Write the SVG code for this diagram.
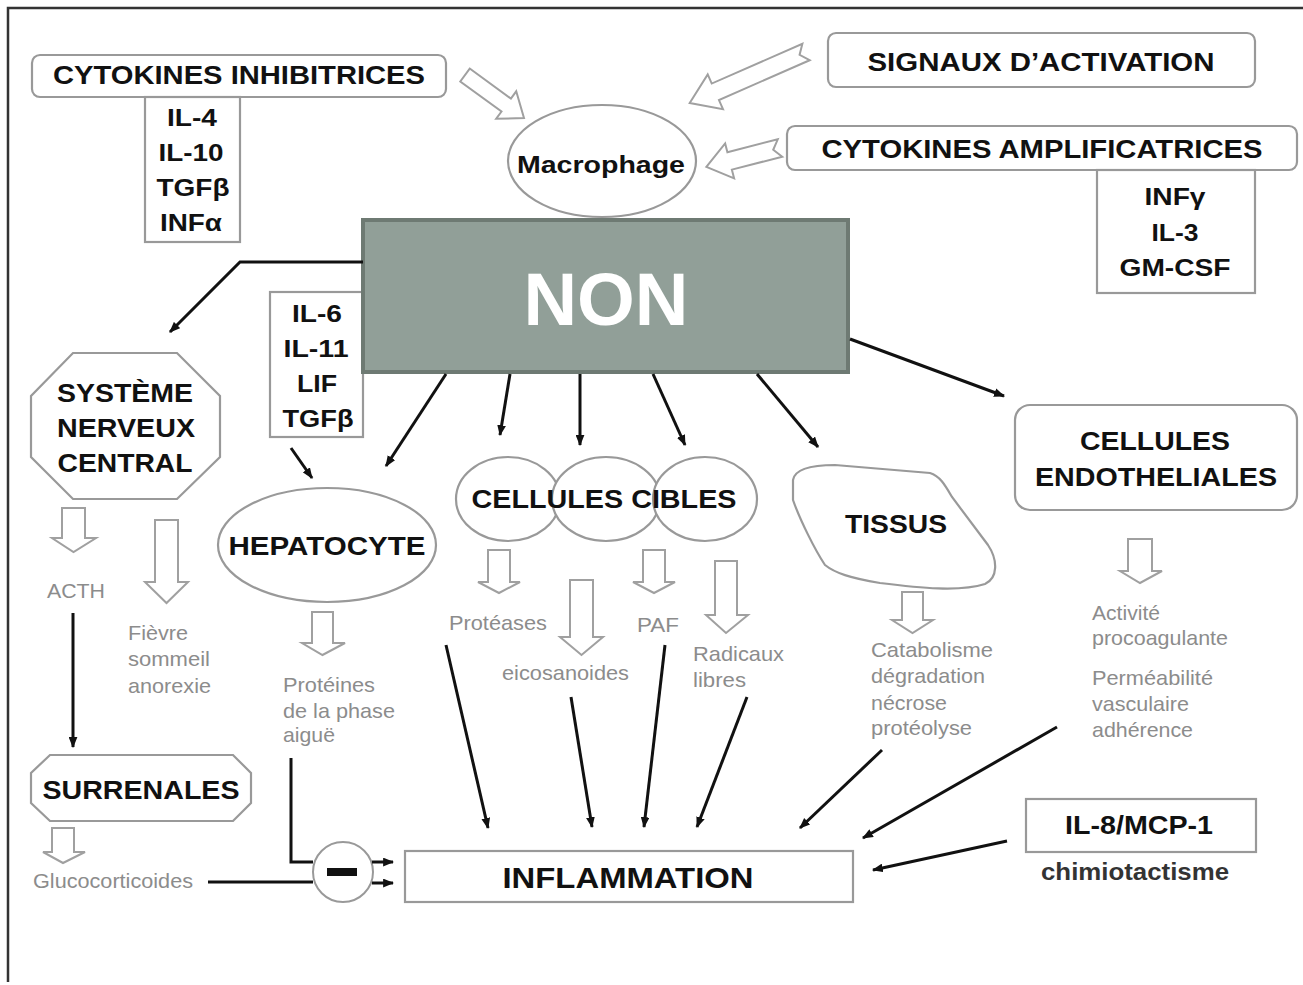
<svg xmlns="http://www.w3.org/2000/svg" width="1303" height="985" viewBox="0 0 1303 985">
<defs>
<style>
.b{font-family:"Liberation Sans",Arial,Helvetica,sans-serif;font-weight:bold;fill:#111;text-anchor:middle}
.g{font-family:"Liberation Sans",Arial,Helvetica,sans-serif;font-size:21px;fill:#8c8c8c}
.node{fill:#fff;stroke:#999;stroke-width:2.2}
.ha{fill:#fff;stroke:#a0a0a0;stroke-width:2}
.ln{fill:none;stroke:#111;stroke-width:3}
</style>
<marker id="ah" viewBox="0 0 10 8" refX="9" refY="4" markerWidth="11" markerHeight="9" markerUnits="userSpaceOnUse" orient="auto">
<path d="M0,0 L10,4 L0,8 z" fill="#111"/>
</marker>
</defs>
<rect width="1303" height="985" fill="#fff"/>
<path d="M8,982 V8 H1303" fill="none" stroke="#333" stroke-width="2.5"/>

<g id="cytokines-inhibitrices">
<rect class="node" x="32" y="55" width="414" height="42" rx="8"/>
<rect class="node" x="145" y="97" width="95" height="145"/>
<text class="b" x="239" y="84" font-size="25" textLength="372" lengthAdjust="spacingAndGlyphs">CYTOKINES INHIBITRICES</text>
<text class="b" x="192" y="126" font-size="24" textLength="50" lengthAdjust="spacingAndGlyphs">IL-4</text>
<text class="b" x="191" y="161" font-size="24" textLength="65" lengthAdjust="spacingAndGlyphs">IL-10</text>
<text class="b" x="193" y="196" font-size="24" textLength="73" lengthAdjust="spacingAndGlyphs">TGFβ</text>
<text class="b" x="191" y="231" font-size="24" textLength="62" lengthAdjust="spacingAndGlyphs">INFα</text>
</g>

<g id="macrophage">
<ellipse class="node" cx="602" cy="161" rx="94" ry="56"/>
<text class="b" x="601" y="173" font-size="23" textLength="168" lengthAdjust="spacingAndGlyphs">Macrophage</text>
</g>

<g id="signaux-activation">
<rect class="node" x="828" y="33" width="427" height="54" rx="8"/>
<text class="b" x="1041" y="71" font-size="26" textLength="347" lengthAdjust="spacingAndGlyphs">SIGNAUX D’ACTIVATION</text>
</g>

<g id="cytokines-amplificatrices">
<rect class="node" x="787" y="126" width="510" height="44" rx="8"/>
<rect class="node" x="1097" y="170" width="158" height="123"/>
<text class="b" x="1042" y="158" font-size="26" textLength="441" lengthAdjust="spacingAndGlyphs">CYTOKINES AMPLIFICATRICES</text>
<text class="b" x="1175" y="205" font-size="24" textLength="61" lengthAdjust="spacingAndGlyphs">INFγ</text>
<text class="b" x="1175" y="241" font-size="24" textLength="47" lengthAdjust="spacingAndGlyphs">IL-3</text>
<text class="b" x="1175" y="276" font-size="24" textLength="111" lengthAdjust="spacingAndGlyphs">GM-CSF</text>
</g>

<g id="il6-box">
<rect class="node" x="270" y="292" width="93" height="145"/>
<text class="b" x="317" y="322" font-size="24" textLength="50" lengthAdjust="spacingAndGlyphs">IL-6</text>
<text class="b" x="316" y="357" font-size="24" textLength="65" lengthAdjust="spacingAndGlyphs">IL-11</text>
<text class="b" x="317" y="392" font-size="24" textLength="40" lengthAdjust="spacingAndGlyphs">LIF</text>
<text class="b" x="318" y="427" font-size="24" textLength="71" lengthAdjust="spacingAndGlyphs">TGFβ</text>
</g>

<g id="non">
<rect x="363" y="220" width="485" height="152" fill="#919f98" stroke="#6e7a73" stroke-width="4"/>
<text x="606" y="325" font-family="'Liberation Sans',Arial,sans-serif" font-weight="bold" font-size="75" fill="#fff" text-anchor="middle" textLength="165" lengthAdjust="spacingAndGlyphs">NON</text>
</g>

<g id="snc">
<polygon class="node" points="73,353 177,353 220,396 220,457 177,499 73,499 31,457 31,396"/>
<text class="b" x="125" y="402" font-size="25" textLength="136" lengthAdjust="spacingAndGlyphs">SYSTÈME</text>
<text class="b" x="126" y="437" font-size="25" textLength="138" lengthAdjust="spacingAndGlyphs">NERVEUX</text>
<text class="b" x="125" y="472" font-size="25" textLength="135" lengthAdjust="spacingAndGlyphs">CENTRAL</text>
</g>

<g id="hepatocyte">
<ellipse class="node" cx="327" cy="545" rx="109" ry="57"/>
<text class="b" x="327" y="555" font-size="25" textLength="197" lengthAdjust="spacingAndGlyphs">HEPATOCYTE</text>
</g>

<g id="cellules-cibles">
<ellipse class="node" cx="508" cy="499" rx="52" ry="42" fill="none"/>
<ellipse class="node" cx="606" cy="499" rx="54" ry="42" fill="none"/>
<ellipse class="node" cx="705" cy="499" rx="52" ry="42" fill="none"/>
<text class="b" x="604" y="508" font-size="25" textLength="265" lengthAdjust="spacingAndGlyphs">CELLULES CIBLES</text>
</g>

<g id="tissus">
<path class="node" d="M793,480 C795,468 815,465 835,465 L930,473 C940,476 945,485 952,497 L988,545 C998,560 998,578 985,584 C960,592 920,588 880,583 C850,578 835,573 825,565 C815,550 800,520 793,500 Z"/>
<text class="b" x="896" y="533" font-size="25" textLength="102" lengthAdjust="spacingAndGlyphs">TISSUS</text>
</g>

<g id="cellules-endotheliales">
<rect class="node" x="1015" y="405" width="282" height="105" rx="15"/>
<text class="b" x="1155" y="450" font-size="25" textLength="150" lengthAdjust="spacingAndGlyphs">CELLULES</text>
<text class="b" x="1156" y="486" font-size="25" textLength="242" lengthAdjust="spacingAndGlyphs">ENDOTHELIALES</text>
</g>

<g id="surrenales">
<polygon class="node" points="50,755 233,755 251,773 251,803 233,821 50,821 31,803 31,773"/>
<text class="b" x="141" y="799" font-size="26" textLength="197" lengthAdjust="spacingAndGlyphs">SURRENALES</text>
</g>

<g id="inflammation">
<rect class="node" x="405" y="851" width="448" height="51"/>
<text class="b" x="628" y="888" font-size="30" textLength="251" lengthAdjust="spacingAndGlyphs">INFLAMMATION</text>
</g>

<g id="il8">
<rect class="node" x="1026" y="799" width="230" height="53"/>
<text class="b" x="1139" y="834" font-size="25" textLength="148" lengthAdjust="spacingAndGlyphs">IL-8/MCP-1</text>
<text class="b" x="1135" y="880" font-size="24" fill="#333" style="fill:#333" textLength="188" lengthAdjust="spacingAndGlyphs">chimiotactisme</text>
</g>

<g id="inhibition">
<circle cx="343" cy="872" r="30" fill="#fff" stroke="#999" stroke-width="2"/>
<rect x="327" y="868" width="30" height="8" fill="#111"/>
</g>

<g id="labels">
<text class="g" x="47" y="598" textLength="58" lengthAdjust="spacingAndGlyphs">ACTH</text>
<text class="g" x="128" y="640" textLength="60" lengthAdjust="spacingAndGlyphs">Fièvre</text>
<text class="g" x="128" y="666" textLength="82" lengthAdjust="spacingAndGlyphs">sommeil</text>
<text class="g" x="128" y="693" textLength="83" lengthAdjust="spacingAndGlyphs">anorexie</text>
<text class="g" x="283" y="692" textLength="92" lengthAdjust="spacingAndGlyphs">Protéines</text>
<text class="g" x="283" y="718" textLength="112" lengthAdjust="spacingAndGlyphs">de la phase</text>
<text class="g" x="283" y="742" textLength="52" lengthAdjust="spacingAndGlyphs">aiguë</text>
<text class="g" x="449" y="630" textLength="98" lengthAdjust="spacingAndGlyphs">Protéases</text>
<text class="g" x="502" y="680" textLength="127" lengthAdjust="spacingAndGlyphs">eicosanoides</text>
<text class="g" x="637" y="632" textLength="42" lengthAdjust="spacingAndGlyphs">PAF</text>
<text class="g" x="693" y="661" textLength="91" lengthAdjust="spacingAndGlyphs">Radicaux</text>
<text class="g" x="693" y="687" textLength="53" lengthAdjust="spacingAndGlyphs">libres</text>
<text class="g" x="871" y="657" textLength="122" lengthAdjust="spacingAndGlyphs">Catabolisme</text>
<text class="g" x="871" y="683" textLength="114" lengthAdjust="spacingAndGlyphs">dégradation</text>
<text class="g" x="871" y="710" textLength="76" lengthAdjust="spacingAndGlyphs">nécrose</text>
<text class="g" x="871" y="735" textLength="101" lengthAdjust="spacingAndGlyphs">protéolyse</text>
<text class="g" x="1092" y="620" textLength="68" lengthAdjust="spacingAndGlyphs">Activité</text>
<text class="g" x="1092" y="645" textLength="136" lengthAdjust="spacingAndGlyphs">procoagulante</text>
<text class="g" x="1092" y="685" textLength="121" lengthAdjust="spacingAndGlyphs">Perméabilité</text>
<text class="g" x="1092" y="711" textLength="97" lengthAdjust="spacingAndGlyphs">vasculaire</text>
<text class="g" x="1092" y="737" textLength="101" lengthAdjust="spacingAndGlyphs">adhérence</text>
<text class="g" x="33" y="888" textLength="160" lengthAdjust="spacingAndGlyphs">Glucocorticoides</text>
</g>

<g id="hollow-arrows">
<polygon class="ha" transform="translate(465,75) rotate(36.1)" points="0,-8 51,-8 51,-17 73,0 51,17 51,8 0,8"/>
<polygon class="ha" transform="translate(806,52) rotate(156.3)" points="0,-9 99,-9 99,-19 127,0 99,19 99,9 0,9 7,0"/>
<polygon class="ha" transform="translate(780,148) rotate(165.6)" points="0,-9 52,-9 52,-18 76,0 52,18 52,9 0,9 7,0"/>
<polygon class="ha" points="62,508 85,508 85,538 96,538 73.5,552 52,538 62,538"/>
<polygon class="ha" points="155,520 178,520 178,582 188,582 166.5,603 145,582 155,582"/>
<polygon class="ha" points="312,612 333,612 333,643 345,643 322.5,655 302,643 312,643"/>
<polygon class="ha" points="488,550 510,550 510,582 520,582 499,593 478,582 488,582"/>
<polygon class="ha" points="570,580 593,580 593,637 603,637 581.5,655 560,637 570,637"/>
<polygon class="ha" points="643,550 665,550 665,582 675,582 654,593 633,582 643,582"/>
<polygon class="ha" points="715,561 737,561 737,615 748,615 726,633 706,615 715,615"/>
<polygon class="ha" points="902,592 923,592 923,620 933,620 912.5,633 892,620 902,620"/>
<polygon class="ha" points="1128,539 1152,539 1152,571 1162,571 1140,583 1120,571 1128,571"/>
<polygon class="ha" points="52,828 74,828 74,852 85,852 63,863 43,852 52,852"/>
</g>

<g id="connectors">
<polyline class="ln" points="363,262 240,262 170,332" marker-end="url(#ah)"/>
<line class="ln" x1="446" y1="374" x2="386" y2="466" marker-end="url(#ah)"/>
<line class="ln" x1="291" y1="448" x2="312" y2="478" marker-end="url(#ah)"/>
<line class="ln" x1="510" y1="374" x2="500" y2="435" marker-end="url(#ah)"/>
<line class="ln" x1="580" y1="374" x2="580" y2="445" marker-end="url(#ah)"/>
<line class="ln" x1="653" y1="374" x2="685" y2="445" marker-end="url(#ah)"/>
<line class="ln" x1="757" y1="374" x2="818" y2="447" marker-end="url(#ah)"/>
<line class="ln" x1="850" y1="339" x2="1004" y2="396" marker-end="url(#ah)"/>
<line class="ln" x1="73" y1="613" x2="73" y2="747" marker-end="url(#ah)"/>
<line class="ln" x1="446" y1="645" x2="488" y2="828" marker-end="url(#ah)"/>
<line class="ln" x1="571" y1="697" x2="592" y2="827" marker-end="url(#ah)"/>
<line class="ln" x1="665" y1="645" x2="644" y2="827" marker-end="url(#ah)"/>
<line class="ln" x1="747" y1="697" x2="697" y2="827" marker-end="url(#ah)"/>
<line class="ln" x1="882" y1="750" x2="800" y2="828" marker-end="url(#ah)"/>
<line class="ln" x1="1057" y1="727" x2="863" y2="838" marker-end="url(#ah)"/>
<line class="ln" x1="1007" y1="841" x2="873" y2="870" marker-end="url(#ah)"/>
<polyline class="ln" points="291,758 291,862 313,862"/>
<line class="ln" x1="208" y1="882" x2="313" y2="882"/>
<line class="ln" x1="372" y1="862" x2="393" y2="862" marker-end="url(#ah)"/>
<line class="ln" x1="372" y1="883" x2="393" y2="883" marker-end="url(#ah)"/>
</g>
</svg>
